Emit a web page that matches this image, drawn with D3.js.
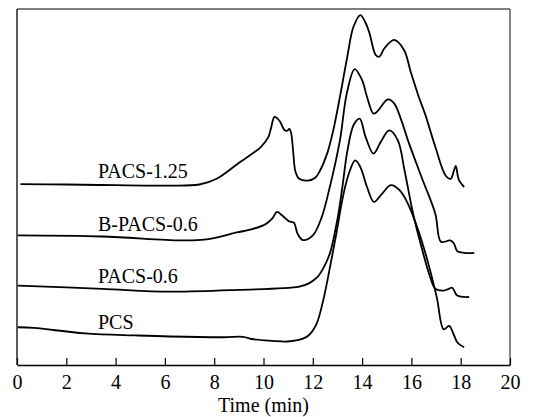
<!DOCTYPE html>
<html>
<head>
<meta charset="utf-8">
<script src="https://cdn.jsdelivr.net/npm/d3@7"></script>
<style>
  body { margin: 0; background: #fff; }
  svg text { font-family: "Liberation Serif", "Times New Roman", serif; fill: #000; }
</style>
</head>
<body>
<svg id="chart" width="533" height="417"></svg>
<script>
// series data, time in min / relative detector response (0..100 of the frame height)
const timeP125 = [0.14, 2, 4, 6, 7.4, 8.1, 8.97, 9.9, 10.2, 10.3, 10.45, 10.65, 10.85, 10.95, 11.05, 11.12, 11.2, 11.3, 11.45, 11.8, 12.1, 12.3, 12.6, 12.83, 13.1, 13.4, 13.65, 13.93, 14.15, 14.3, 14.55, 14.7, 14.9, 15.3, 15.7, 15.97, 16.3, 16.55, 16.97, 17.38, 17.59, 17.73, 17.8, 17.93, 18.14];
const sigP125  = [50.8, 50.7, 50.5, 50.4, 50.7, 52.3, 56.6, 61.3, 64.1, 66.4, 69.7, 68.6, 66, 65.8, 66.3, 65.2, 60.3, 54.2, 52.3, 51.8, 52.6, 54.7, 59.8, 65.9, 75.3, 86.6, 95, 98.3, 96, 93.2, 87.1, 86.6, 88.9, 91.3, 88.5, 82.4, 75.3, 70.6, 61.3, 53.3, 52.3, 54.7, 55.9, 51.9, 50];

const timeB06 = [0.03, 3.45, 6.62, 7.6, 8.97, 9.45, 10.07, 10.35, 10.55, 10.76, 11.03, 11.24, 11.38, 11.6, 12.0, 12.34, 12.69, 13.1, 13.38, 13.7, 14.0, 14.2, 14.46, 14.6, 15.05, 15.3, 15.59, 15.86, 16.41, 16.97, 17.2, 17.57, 17.72, 17.86, 18.14, 18.55];
const sigB06  = [36.4, 36.1, 35, 35.2, 37.3, 38, 39.5, 41.1, 43, 42, 40.4, 39.9, 36.9, 35.1, 36.4, 41.1, 50, 63.1, 76.3, 83.1, 80, 75.3, 70.6, 71.1, 74.6, 73.5, 68.8, 63.1, 52.8, 42.5, 34.6, 35, 34.2, 32, 31.5, 31.5];

const timeP06 = [0.03, 3.45, 6.2, 8.97, 11.45, 11.86, 12.2, 12.45, 12.7, 13.0, 13.2, 13.4, 13.66, 13.9, 14.14, 14.46, 14.76, 15.1, 15.45, 15.72, 16.07, 16.41, 16.76, 16.97, 17.31, 17.52, 17.66, 17.86, 18.34];
const sigP06  = [22.3, 21.4, 20.6, 21.1, 22, 23, 24.8, 27.5, 31.5, 41, 50, 60, 67.5, 69.2, 64.1, 59.4, 62.7, 65.9, 63.1, 54.7, 42.5, 33.1, 24.7, 21.4, 20.9, 21.4, 21.7, 19.5, 19.1];

const timePCS = [0.03, 0.69, 2.76, 4.83, 6.2, 8.41, 9.17, 9.52, 10.34, 10.97, 11.6, 11.86, 12.16, 12.4, 12.6, 12.97, 13.2, 13.45, 13.72, 13.93, 14.2, 14.48, 14.76, 15.17, 15.52, 15.86, 16.28, 16.69, 17.03, 17.31, 17.53, 17.72, 17.86, 18.14];
const sigPCS  = [10.6, 10.4, 8.9, 8.3, 8, 7.8, 7.9, 7.3, 6.8, 6.6, 7.4, 8.5, 11.7, 17.5, 24, 37.5, 46.5, 53.5, 57.5, 55.6, 50, 45.8, 47.7, 50.5, 49.1, 45.3, 37.8, 28.4, 19, 10, 11, 8.5, 6.4, 5];

const seriesNames = ["PACS-1.25", "B-PACS-0.6", "PACS-0.6", "PCS"];
const xTicks = [0, 2, 4, 6, 8, 10, 12, 14, 16, 18, 20];
const xTitle = "Time (min)";

const series = [
  { name: seriesNames[0], t: timeP125, v: sigP125, labelY: 52.4 },
  { name: seriesNames[1], t: timeB06,  v: sigB06,  labelY: 37.6 },
  { name: seriesNames[2], t: timeP06,  v: sigP06,  labelY: 22.9 },
  { name: seriesNames[3], t: timePCS,  v: sigPCS,  labelY: 10.2 }
];

const plotLeft = 17, plotRight = 510, plotTop = 9, plotBottom = 365;

const svg = d3.select("#chart");
const x = d3.scaleLinear().domain([0, 20]).range([plotLeft, plotRight]);
const y = d3.scaleLinear().domain([0, 100]).range([plotBottom, plotTop]);

const line = d3.line()
  .x(d => x(d[0]))
  .y(d => y(d[1]))
  .curve(d3.curveCatmullRom.alpha(0.5));

svg.selectAll(".trace")
  .data(series)
  .enter().append("path")
  .attr("class", "trace")
  .attr("d", s => line(s.t.map((t, i) => [t, s.v[i]])))
  .attr("fill", "none")
  .attr("stroke", "#000")
  .attr("stroke-width", 1.8)
  .attr("stroke-linejoin", "round");

svg.selectAll(".lbl")
  .data(series)
  .enter().append("text")
  .attr("class", "lbl")
  .attr("x", 98)
  .attr("y", s => y(s.labelY))
  .attr("font-size", 20)
  .text(s => s.name);

// frame: top and right lighter than the axis lines
svg.append("line").attr("x1", plotLeft).attr("x2", plotRight).attr("y1", plotTop).attr("y2", plotTop)
  .attr("stroke", "#555").attr("stroke-width", 1.3);
svg.append("line").attr("x1", plotRight).attr("x2", plotRight).attr("y1", plotTop).attr("y2", plotBottom)
  .attr("stroke", "#444").attr("stroke-width", 1.3);
svg.append("line").attr("x1", plotLeft).attr("x2", plotLeft).attr("y1", plotTop).attr("y2", plotBottom)
  .attr("stroke", "#000").attr("stroke-width", 1.3);

const xAxis = svg.append("g")
  .attr("transform", `translate(0,${plotBottom})`)
  .call(d3.axisBottom(x).tickValues(xTicks).tickSizeInner(-7).tickSizeOuter(0).tickPadding(10));
xAxis.select(".domain").attr("stroke", "#000").attr("stroke-width", 1.3);
xAxis.selectAll(".tick line").attr("stroke", "#000").attr("stroke-width", 1.2);
xAxis.selectAll(".tick text")
  .attr("font-size", 20)
  .attr("fill", "#000");

svg.append("text")
  .attr("x", (plotLeft + plotRight) / 2)
  .attr("y", 412)
  .attr("text-anchor", "middle")
  .attr("font-size", 20)
  .text(xTitle);
</script>
</body>
</html>
